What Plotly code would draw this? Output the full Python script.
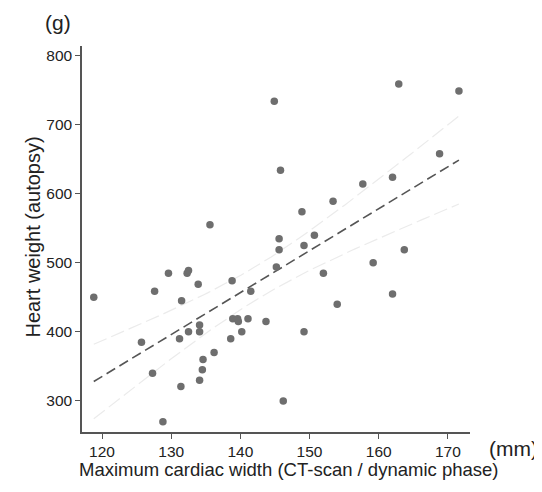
import numpy as np
import plotly.graph_objects as go

# Maximum cardiac width (mm) and heart weight (g)
width_mm = [118.8, 125.7, 127.3, 127.6, 128.8, 129.6, 131.2, 131.4, 131.5, 132.3,
            132.5, 132.5, 133.9, 134.1, 134.1, 134.1, 134.5, 134.6, 136.2, 138.6,
            138.8, 138.9, 139.6, 139.7, 140.2, 141.1, 141.5, 143.7, 145.2, 145.6,
            145.6, 146.2, 149.2, 149.2, 152.0, 154.0, 159.2, 162.0, 163.7, 144.9,
            145.8, 148.9, 135.6, 150.7, 162.9, 171.6, 168.8, 162.0, 157.7, 153.4]
weight_g = [450, 385, 340, 459, 270, 485, 390, 321, 445, 485,
            489, 400, 469, 410, 400, 330, 345, 360, 370, 390,
            474, 419, 419, 415, 400, 419, 459, 415, 494, 519,
            535, 300, 525, 400, 485, 440, 500, 455, 519, 734,
            634, 574, 555, 540, 759, 749, 658, 624, 614, 589]

x_ticks = [120, 130, 140, 150, 160, 170]
y_ticks = [300, 400, 500, 600, 700, 800]

x = np.array(width_mm, dtype=float)
y = np.array(weight_g, dtype=float)
n = len(x)
b1, b0 = np.polyfit(x, y, 1)
xs = np.linspace(x.min(), x.max(), 100)
ys = b0 + b1 * xs
resid = y - (b0 + b1 * x)
s = np.sqrt(np.sum(resid**2) / (n - 2))
sxx = np.sum((x - x.mean())**2)
tval = 2.0106
se = s * np.sqrt(1.0 / n + (xs - x.mean())**2 / sxx)
upper = ys + tval * se
lower = ys - tval * se

font = "Liberation Sans, Arial, Helvetica, sans-serif"
fig = go.Figure()
fig.add_trace(go.Scatter(x=xs, y=upper, mode="lines",
                         line=dict(color="#ebebeb", width=1.2, dash="14px,5px"),
                         hoverinfo="skip"))
fig.add_trace(go.Scatter(x=xs, y=lower, mode="lines",
                         line=dict(color="#ebebeb", width=1.2, dash="14px,5px"),
                         hoverinfo="skip"))
fig.add_trace(go.Scatter(x=xs, y=ys, mode="lines",
                         line=dict(color="#555555", width=1.6, dash="10px,5px"),
                         hoverinfo="skip"))
fig.add_trace(go.Scatter(x=width_mm, y=weight_g, mode="markers",
                         marker=dict(color="#6e6e6e", size=7.5, line=dict(width=0))))

fig.update_layout(
    width=534, height=484,
    margin=dict(l=74, r=72, t=38, b=60),
    paper_bgcolor="white", plot_bgcolor="white",
    showlegend=False,
    font=dict(family=font, color="#222222", size=15.5),
    xaxis=dict(range=[117.1, 173.2], tickvals=x_ticks, showgrid=False, zeroline=False,
               showline=True, linecolor="#555555", linewidth=1.5,
               ticks="outside", ticklen=5, tickcolor="#555555", tickwidth=1.2,
               tickfont=dict(size=15.5, color="#222222")),
    yaxis=dict(range=[255, 814], tickvals=y_ticks, showgrid=False, zeroline=False,
               showline=True, linecolor="#555555", linewidth=1.5,
               ticks="outside", ticklen=5, tickcolor="#555555", tickwidth=1.2,
               tickfont=dict(size=15.5, color="#222222")),
    annotations=[
        dict(text="Maximum cardiac width (CT-scan / dynamic phase)", xref="paper", yref="paper",
             x=0.531, y=-0.096, showarrow=False, xanchor="center", yanchor="middle",
             font=dict(size=18.5, color="#222222")),
        dict(text="Heart weight (autopsy)", xref="paper", yref="paper",
             x=-0.126, y=0.504, showarrow=False, textangle=-90, xanchor="center", yanchor="middle",
             font=dict(size=20, color="#222222")),
        dict(text="(mm)", xref="paper", yref="paper",
             x=1.111, y=-0.044, showarrow=False, xanchor="center", yanchor="middle",
             font=dict(size=21, color="#222222")),
        dict(text="(g)", xref="paper", yref="paper",
             x=-0.062, y=1.06, showarrow=False, xanchor="center", yanchor="middle",
             font=dict(size=21, color="#222222")),
    ],
)
fig.write_html("out.html")
